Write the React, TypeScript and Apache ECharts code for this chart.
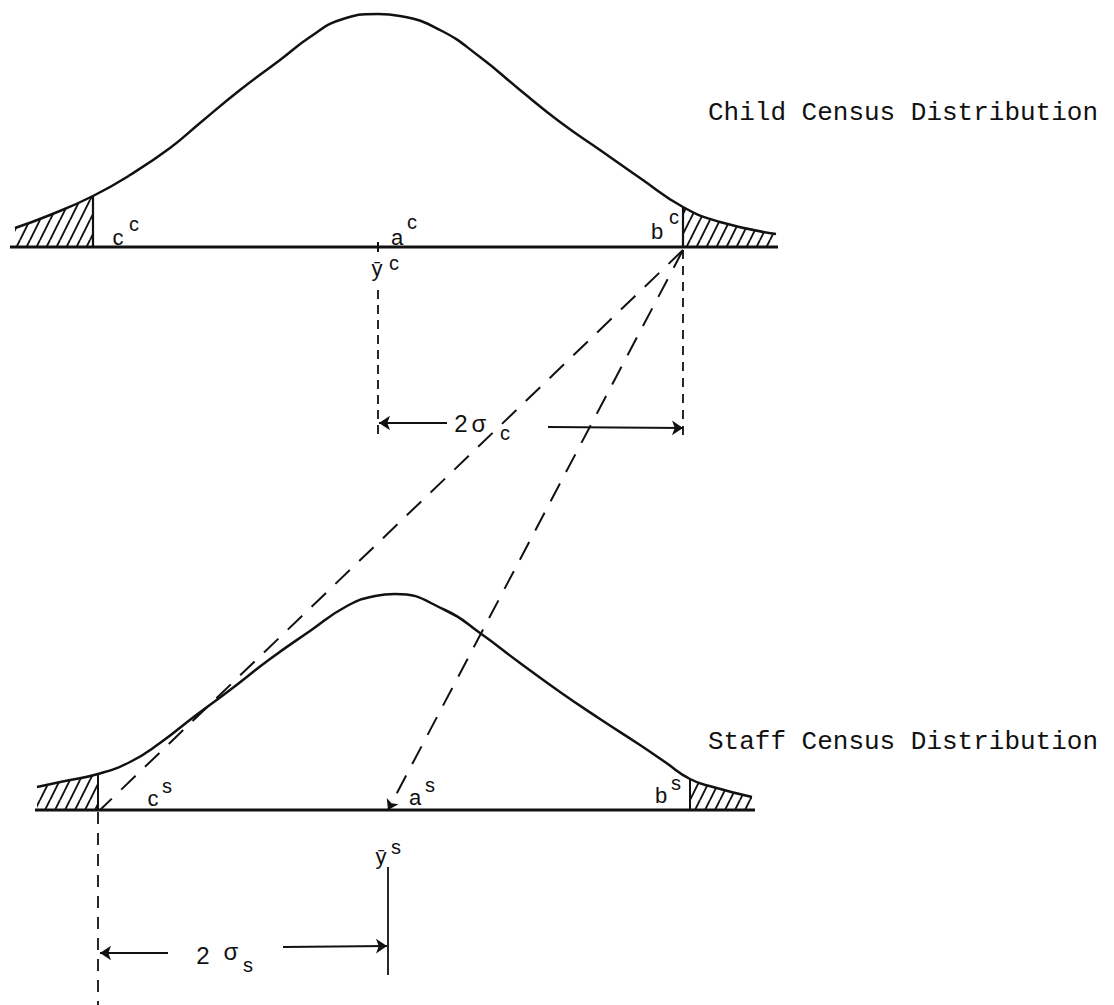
import React, { useEffect, useRef } from "react";
import * as echarts from "echarts";

// ---- Data (diagram units: horizontal census scale, vertical drawing scale) ----
// Child census distribution curve
const childX = [15, 50, 93, 130, 170, 200, 240, 280, 310, 340, 378, 400, 440, 480, 520, 560, 600, 640, 683, 720, 776];
const childY = [228, 215, 196, 175, 148, 123, 90, 60, 37, 20, 14, 16, 30, 57, 90, 122, 150, 178, 207, 222, 234];
const childBase = 247;
const childAxis = [10, 778];
const childLow = 93; // c^c
const childHigh = 683; // b^c
const childMean = 378; // ybar^c

// Staff census distribution curve
const staffX = [37, 65, 98, 130, 160, 195, 230, 270, 310, 347, 375, 395, 445, 480, 520, 560, 600, 640, 665, 690, 713, 752];
const staffY = [787, 781, 774, 762, 743, 716, 690, 659, 631, 606, 596, 594, 610, 633, 663, 692, 719, 745, 762, 779, 787, 797];
const staffBase = 810;
const staffAxis = [35, 755];
const staffLow = 98; // c^s
const staffHigh = 690; // b^s
const staffMean = 388; // ybar^s

// Annotation texts: [text, x, y, size, family]
const SANS = "'Liberation Sans', Arial, sans-serif";
const MONO = "'Liberation Mono', 'Courier New', monospace";
const labels: [string, number, number, number, string][] = [
  ["Child Census Distribution", 903, 113, 26, MONO],
  ["Staff Census Distribution", 903, 742, 26, MONO],
  ["c", 118, 237, 22, SANS],
  ["c", 134, 224, 20, SANS],
  ["a", 397, 237, 22, SANS],
  ["c", 412, 222, 20, SANS],
  ["b", 657, 231, 22, SANS],
  ["c", 674, 217, 20, SANS],
  ["ȳ", 377, 268, 22, SANS],
  ["c", 394, 263, 20, SANS],
  ["2", 461, 423, 24, SANS],
  ["σ", 479, 423, 24, SANS],
  ["c", 505, 433, 20, SANS],
  ["c", 153, 798, 22, SANS],
  ["s", 167, 786, 20, SANS],
  ["a", 415, 797, 22, SANS],
  ["s", 430, 785, 20, SANS],
  ["b", 661, 795, 22, SANS],
  ["s", 676, 783, 20, SANS],
  ["ȳ", 381, 856, 22, SANS],
  ["s", 396, 847, 20, SANS],
  ["2", 203, 955, 24, SANS],
  ["σ", 231, 951, 24, SANS],
  ["s", 248, 965, 20, SANS],
];

const pairs = (xs: number[], ys: number[]) => xs.map((x, i) => [x, ys[i]]);

function hatchCanvas() {
  const c = document.createElement("canvas");
  c.width = 10;
  c.height = 20;
  const g = c.getContext("2d")!;
  g.strokeStyle = "#111";
  g.lineWidth = 1.9;
  g.beginPath();
  for (const x0 of [-10, 0, 10]) {
    g.moveTo(x0, 20);
    g.lineTo(x0 + 10, 0);
  }
  g.stroke();
  return c;
}

export default function App() {
  const ref = useRef<HTMLDivElement>(null);
  useEffect(() => {
    document.body.style.margin = "0";
    const chart = echarts.init(ref.current!, undefined, { renderer: "svg" });
    const hatch = { image: hatchCanvas(), repeat: "repeat", imageWidth: 10, imageHeight: 20 } as any;
    const black = "#111";

    const curve = (xs: number[], ys: number[]) => ({
      type: "line", data: pairs(xs, ys), smooth: 0.5, showSymbol: false, symbol: "none",
      lineStyle: { color: black, width: 2.5 }, z: 5,
    });
    const tail = (xs: number[], ys: number[], test: (x: number) => boolean, origin: number) => {
      const pts = pairs(xs, ys).filter((p) => test(p[0]));
      return {
        type: "line", data: pts, smooth: 0.5, symbol: "none",
        lineStyle: { width: 0, opacity: 0 }, areaStyle: { color: hatch, origin, opacity: 1 }, z: 2,
      };
    };
    const seg = (a: number[], b: number[], width: number, type: any = "solid") => ({
      type: "line", data: [a, b], symbol: "none", lineStyle: { color: black, width, type }, z: 4,
    });
    const childCutY = (x: number) => childY[childX.indexOf(x)];
    const staffCutY = (x: number) => staffY[staffX.indexOf(x)];

    const arrows = {
      type: "lines", coordinateSystem: "cartesian2d", symbol: ["none", "arrow"], symbolSize: [0, 11],
      lineStyle: { color: black, width: 2, curveness: 0, opacity: 1 }, z: 6,
      data: [
        { coords: [[447, 423], [379, 423]] },
        { coords: [[548, 427], [683, 428]] },
        { coords: [[168, 953], [100, 953]] },
        { coords: [[283, 947], [387, 946]] },
      ],
    };
    const diagArrow = {
      type: "lines", coordinateSystem: "cartesian2d", symbol: ["none", "arrow"], symbolSize: [0, 10],
      lineStyle: { color: black, width: 2, curveness: 0, opacity: 1, type: [20, 13] }, z: 6,
      data: [{ coords: [[childHigh, childBase + 3], [staffMean, staffBase]] }],
    };

    const texts = {
      type: "custom", data: labels.map((l) => [l[1], l[2]]), z: 10, clip: false,
      renderItem: (params: any, api: any) => {
        const l = labels[params.dataIndex];
        const p = api.coord([l[1], l[2]]);
        return {
          type: "text", x: p[0], y: p[1],
          style: { text: l[0], fontSize: l[3], fontFamily: l[4], fill: black, align: "center", verticalAlign: "middle" },
        };
      },
    };

    chart.setOption({
      animation: false,
      backgroundColor: "#fff",
      grid: { left: 0, right: 0, top: 0, bottom: 0 },
      xAxis: { type: "value", min: 0, max: 1114, show: false },
      yAxis: { type: "value", min: 0, max: 1005, inverse: true, show: false },
      series: [
        tail(childX, childY, (x) => x <= childLow, childBase),
        tail(childX, childY, (x) => x >= childHigh, childBase),
        curve(childX, childY),
        seg([childAxis[0], childBase], [childAxis[1], childBase], 3),
        seg([childLow, childCutY(childLow)], [childLow, childBase], 2.2),
        seg([childHigh, childCutY(childHigh)], [childHigh, childBase], 2.2),
        seg([childMean, childBase - 5], [childMean, childBase + 5], 2),
        seg([childMean, 290], [childMean, 437], 1.8, [9, 6]),
        seg([childHigh, childBase + 3], [childHigh, 437], 1.8, [9, 7]),

        tail(staffX, staffY, (x) => x <= staffLow, staffBase),
        tail(staffX, staffY, (x) => x >= staffHigh, staffBase),
        curve(staffX, staffY),
        seg([staffAxis[0], staffBase], [staffAxis[1], staffBase], 3),
        seg([staffLow, staffCutY(staffLow)], [staffLow, staffBase], 2),
        seg([staffHigh, staffCutY(staffHigh)], [staffHigh, staffBase], 2),
        seg([staffLow, staffBase + 2], [staffLow, 1005], 1.8, [12, 9]),
        seg([staffMean, 867], [staffMean, 975], 1.8),

        seg([childHigh, childBase + 3], [staffLow + 2, staffBase], 2, [20, 13]),
        diagArrow,
        arrows,
        texts,
      ],
    } as any);
    return () => chart.dispose();
  }, []);
  return <div ref={ref} style={{ width: 1114, height: 1005 }} />;
}
